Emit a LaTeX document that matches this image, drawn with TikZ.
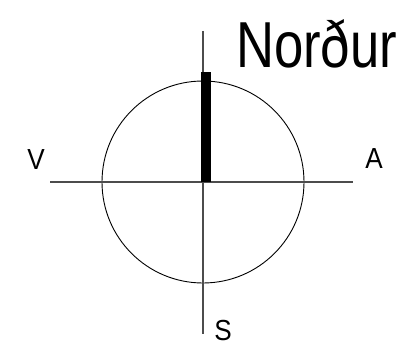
\documentclass[tikz,border=0pt]{standalone}
\usepackage{fontspec}
\setmainfont{Liberation Sans}
\usetikzlibrary{positioning}
\tikzset{axis/.style={draw=black!70,line width=1.2pt},
  ring/.style={draw=black,line width=0.9pt},
  compasslbl/.style={inner sep=0pt,xscale=0.9,font=\fontsize{29}{29}\selectfont,text=black},
  titlelbl/.style={inner sep=0pt,anchor=base west,xscale=0.81,
    font=\fontsize{65}{65}\selectfont,text=black}}

\begin{document}
\begin{tikzpicture}[x=1pt,y=-1pt]
    \useasboundingbox (0,0) rectangle (415,361);
    \coordinate (c) at (203,182);
    \coordinate (top) at (203,31);
    \coordinate (bot) at (203,334);
    \coordinate (west) at (50,182);
    \coordinate (east) at (353,182);
    \draw[ring] (c) circle [radius=101];
    \draw[axis] (top)--(bot); \draw[axis] (west)--(east);
    % needle
    \fill (201,72) rectangle (211,182);
    \node[titlelbl] (nordur) at (236,67) {Norður};
    \node[compasslbl] (v) at (36,160) {V};
    \node[compasslbl] (a) at (374,159) {A};
    \node[compasslbl] (s) at (223,331) {S};
  \end{tikzpicture}
\end{document}
